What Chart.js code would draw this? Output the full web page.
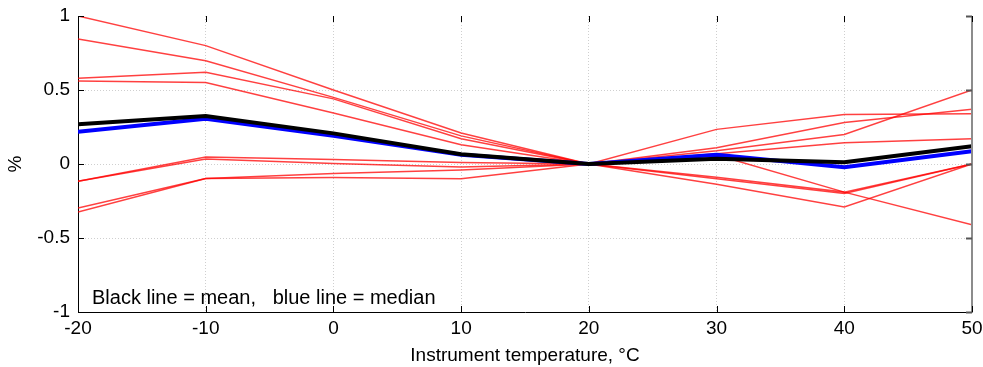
<!DOCTYPE html>
<html>
<head>
<meta charset="utf-8">
<script src="https://cdn.jsdelivr.net/npm/chart.js@4.4.1/dist/chart.umd.min.js"></script>
<style>
html, body { margin: 0; padding: 0; background: #ffffff; }
#wrap { width: 983px; height: 367px; }
</style>
</head>
<body>
<div id="wrap"><canvas id="c" width="983" height="367"></canvas></div>
<script>
// ---- data ----
const temperatures = [-20, -10, 0, 10, 20, 30, 40, 50];

const instrumentA = [1.00, 0.80, 0.50, 0.21, 0, 0.234, 0.335, 0.34];
const instrumentB = [0.844, 0.697, 0.45, 0.19, 0, 0.11, 0.28, 0.37];
const instrumentC = [0.58, 0.62, 0.44, 0.17, 0, 0.09, 0.20, 0.50];
const instrumentD = [0.56, 0.55, 0.345, 0.13, 0, 0.07, 0.143, 0.17];
const instrumentE = [-0.117, 0.048, 0.03, 0.01, 0, 0.06, -0.19, -0.41];
const instrumentF = [-0.117, 0.033, 0.003, -0.02, 0, -0.09, -0.19, 0.0];
const instrumentG = [-0.297, -0.098, -0.064, -0.04, 0, -0.10, -0.20, 0.0];
const instrumentH = [-0.325, -0.098, -0.092, -0.10, 0, -0.137, -0.29, 0.0];

const meanValues = [0.268, 0.324, 0.207, 0.066, 0, 0.035, 0.012, 0.12];
const medianValues = [0.218, 0.305, 0.19, 0.062, 0, 0.062, -0.022, 0.087];

const xTickValues = [-20, -10, 0, 10, 20, 30, 40, 50];
const yTickValues = [-1, -0.5, 0, 0.5, 1];
const xTitle = 'Instrument temperature, \u00B0C';
const yTitle = '%';
const noteText = 'Black line = mean,   blue line = median';

// ---- build datasets ----
const toPoints = arr => temperatures.map((t, i) => ({ x: t, y: arr[i] }));
const redSeries = [instrumentA, instrumentB, instrumentC, instrumentD,
                   instrumentE, instrumentF, instrumentG, instrumentH];

const datasets = [];
datasets.push({ label: 'mean', data: toPoints(meanValues), borderColor: '#000000',
  borderWidth: 4, order: 0 });
datasets.push({ label: 'median', data: toPoints(medianValues), borderColor: '#0000ff',
  borderWidth: 4, order: 1 });
redSeries.forEach((s, i) => datasets.push({ label: 'instrument ' + (i + 1), data: toPoints(s),
  borderColor: 'rgba(255,0,0,0.75)', borderWidth: 1.5, order: 2 }));

const FONT = { family: '"Liberation Sans", Arial, sans-serif', size: 19 };

const tickPlugin = {
  id: 'innerTicks',
  afterDatasetsDraw(chart) {
    const { ctx, chartArea: a, scales: { x, y } } = chart;
    ctx.save();
    // right border (grey)
    ctx.strokeStyle = '#8c8c8c';
    ctx.lineWidth = 2;
    ctx.beginPath();
    ctx.moveTo(a.right, a.top);
    ctx.lineTo(a.right, a.bottom + 1);
    ctx.stroke();
    const L = 6;
    ctx.lineWidth = 1;
    xTickValues.forEach(v => {
      const px = Math.round(x.getPixelForValue(v)) + 0.5;
      ctx.strokeStyle = '#000';
      ctx.beginPath();
      ctx.moveTo(px, a.bottom); ctx.lineTo(px, a.bottom - L);
      ctx.moveTo(px, a.top); ctx.lineTo(px, a.top + L);
      ctx.stroke();
    });
    yTickValues.forEach(v => {
      const py = Math.round(y.getPixelForValue(v)) + 0.5;
      ctx.strokeStyle = '#000';
      ctx.beginPath();
      ctx.moveTo(a.left, py); ctx.lineTo(a.left + L, py);
      ctx.stroke();
      ctx.strokeStyle = '#555';
      ctx.lineWidth = 2;
      ctx.beginPath();
      ctx.moveTo(a.right, py); ctx.lineTo(a.right - L, py);
      ctx.stroke();
      ctx.lineWidth = 1;
    });
    // annotation text
    ctx.fillStyle = '#000';
    ctx.font = '20px "Liberation Sans", Arial, sans-serif';
    ctx.textBaseline = 'alphabetic';
    ctx.textAlign = 'left';
    ctx.fillText(noteText, a.left + 14, a.bottom - 8);
    ctx.restore();
  }
};

new Chart(document.getElementById('c'), {
  type: 'line',
  data: { datasets },
  options: {
    responsive: false,
    animation: false,
    devicePixelRatio: 1,
    layout: { padding: { top: 16, right: 11, left: 0, bottom: 0 } },
    elements: { point: { radius: 0 }, line: { tension: 0, fill: false, borderJoinStyle: 'miter' } },
    plugins: { legend: { display: false }, tooltip: { enabled: false } },
    scales: {
      x: {
        type: 'linear', min: -20, max: 50,
        afterBuildTicks: s => { s.ticks = xTickValues.map(v => ({ value: v })); },
        afterFit: s => { s.height = 55; s.paddingLeft = 0; s.paddingRight = 0; },
        ticks: { color: '#000', font: FONT, padding: 5, maxRotation: 0, callback: v => String(v) },
        grid: { color: '#cfcfcf', lineWidth: 1, drawTicks: false },
        border: { display: true, color: '#000', width: 1, dash: [1, 2] },
        title: { display: true, text: xTitle, color: '#000', font: FONT, padding: { top: 2, bottom: 0 } }
      },
      y: {
        type: 'linear', min: -1, max: 1,
        afterBuildTicks: s => { s.ticks = yTickValues.map(v => ({ value: v })); },
        afterFit: s => { s.width = 78; s.paddingTop = 0; s.paddingBottom = 0; },
        ticks: { color: '#000', font: FONT, padding: 8, callback: v => String(v) },
        grid: { color: ctx => (ctx.tick && ctx.tick.value === 1 ? 'rgba(0,0,0,0)' : '#cfcfcf'), lineWidth: 1, drawTicks: false },
        border: { display: true, color: '#000', width: 1, dash: [1, 2] },
        title: { display: true, text: yTitle, color: '#000', font: FONT, padding: { top: 4, bottom: 0 } }
      }
    }
  },
  plugins: [tickPlugin]
});
</script>
</body>
</html>
